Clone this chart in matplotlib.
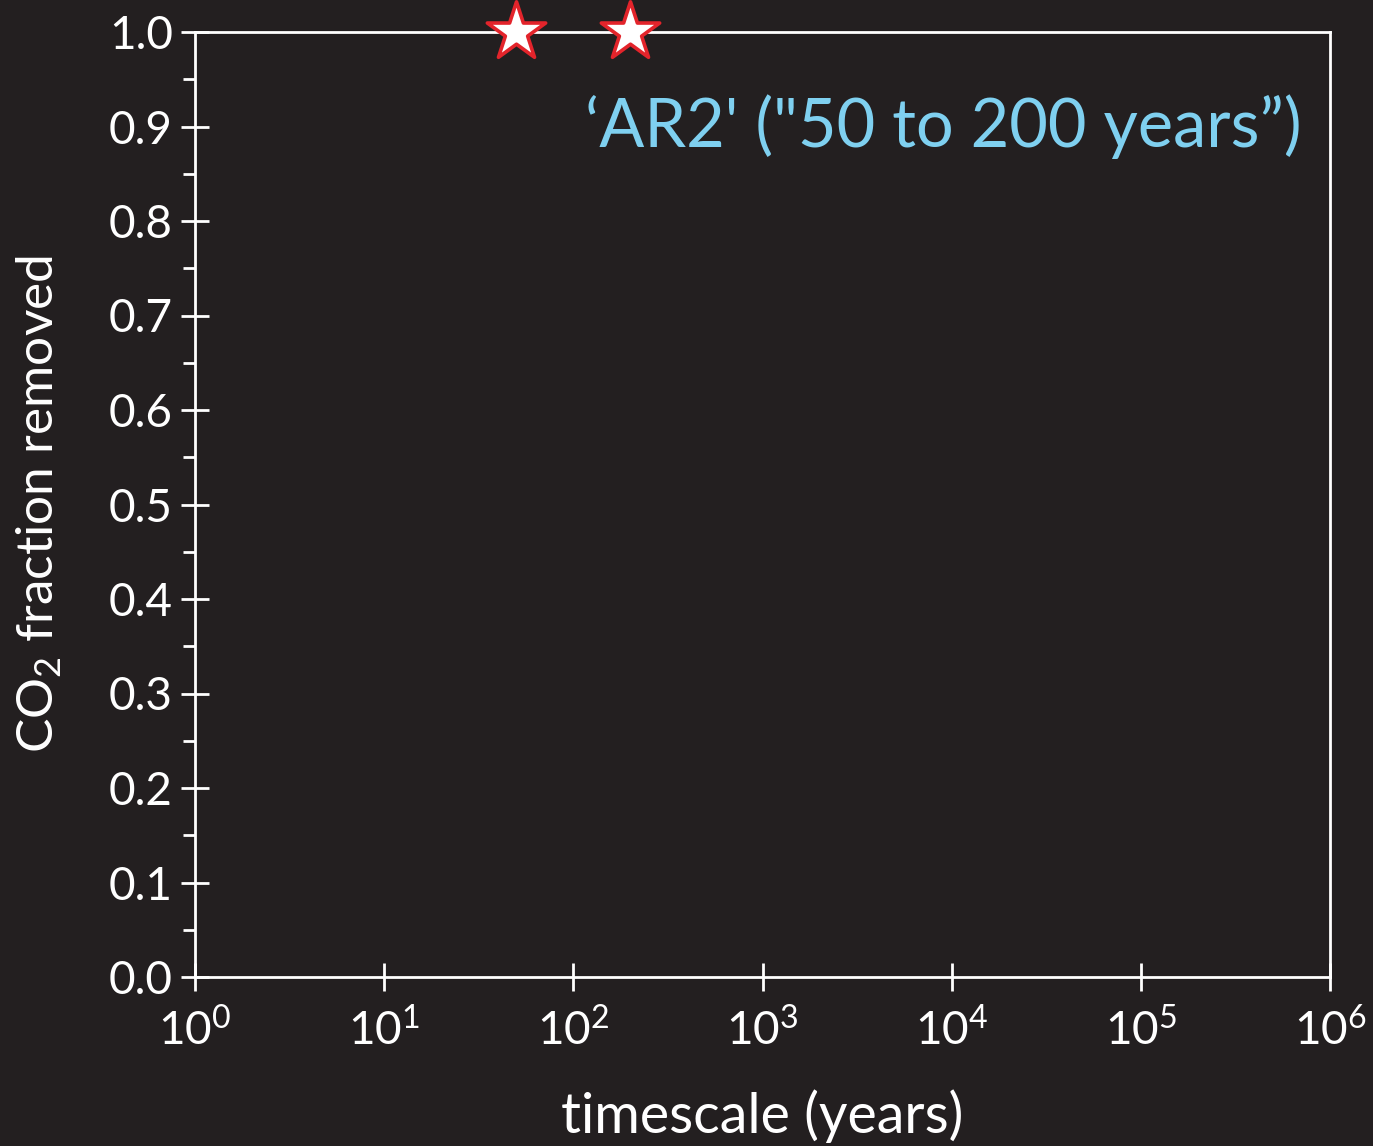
import matplotlib
matplotlib.use("Agg")
import matplotlib.pyplot as plt
from matplotlib.ticker import FixedLocator, NullFormatter

plt.rcParams['font.family'] = ['Lato', 'DejaVu Sans']
plt.rcParams['font.weight'] = 'normal'
plt.rcParams['mathtext.fontset'] = 'custom'
plt.rcParams['mathtext.rm'] = 'Lato'

star_x = [50, 200]
star_y = [1.0, 1.0]
annotation = "\u2018AR2' (\"50 to 200 years\u201d)"
xticks = [1, 10, 100, 1000, 10000, 100000, 1000000]
xticklabels = [r"$\mathregular{10^{%d}}$" % i for i in range(7)]
yticks = [0.0, 0.1, 0.2, 0.3, 0.4, 0.5, 0.6, 0.7, 0.8, 0.9, 1.0]
yminor = [0.05, 0.15, 0.25, 0.35, 0.45, 0.55, 0.65, 0.75, 0.85, 0.95]

bg = '#231f20'
fg = 'white'
fig = plt.figure(figsize=(13.73, 11.46), dpi=100, facecolor=bg)
ax = fig.add_axes([195/1373, 1-977/1146, (1330-195)/1373, (977-32)/1146])
ax.set_facecolor(bg)
ax.set_xscale('log')
ax.set_xlim(1, 1e6)
ax.set_ylim(0, 1)
for s in ax.spines.values():
    s.set_color(fg)
    s.set_linewidth(2)

ax.scatter(star_x, star_y, marker='*', s=1950, facecolor='white', edgecolor='#e3242b',
           linewidth=2.6, zorder=5, clip_on=False)

ax.xaxis.set_major_locator(FixedLocator(xticks))
ax.set_xticklabels(xticklabels)
ax.xaxis.set_minor_formatter(NullFormatter())
ax.tick_params(axis='x', which='minor', length=0)
ax.yaxis.set_major_locator(FixedLocator(yticks))
ax.yaxis.set_minor_locator(FixedLocator(yminor))
ax.set_yticklabels(["%.1f" % v for v in yticks])
ax.tick_params(axis='both', which='major', direction='inout', length=20, width=2,
               colors=fg, labelsize=33, pad=6)
ax.tick_params(axis='y', which='minor', direction='out', length=9, width=2, colors=fg)
ax.tick_params(axis='x', which='major', pad=12)

ax.set_xlabel("timescale (years)", color=fg, fontsize=40, labelpad=26)
ax.set_ylabel(r"CO$_\mathregular{2}$ fraction removed", color=fg, fontsize=37, labelpad=32)

ax.text(0.975, 0.9, annotation, transform=ax.transAxes, ha='right', va='center',
        color='#7fd0f0', fontsize=48)

fig.savefig('out.png', dpi=100, facecolor=bg)
